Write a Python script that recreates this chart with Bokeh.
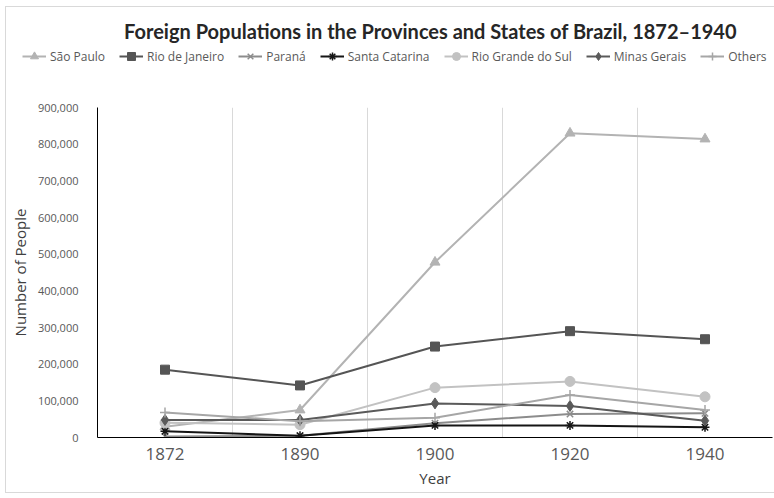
from bokeh.plotting import figure
from bokeh.layouts import column
from bokeh.models import Range1d, FixedTicker, NumeralTickFormatter, Legend, LegendItem, Label
from bokeh.embed import file_html
from bokeh.resources import INLINE

years = ["1872", "1890", "1900", "1920", "1940"]
sao_paulo = [29000, 75000, 478000, 830000, 814000]
rio_de_janeiro = [185000, 142000, 248000, 290000, 268000]
parana = [3000, 5000, 39000, 64000, 66000]
santa_catarina = [17000, 5000, 33000, 33000, 28000]
rio_grande_do_sul = [40000, 35000, 136000, 153000, 111000]
minas_gerais = [48000, 48000, 93000, 86000, 46000]
others = [68000, 44000, 54000, 116000, 75000]
y_ticks = [0, 100000, 200000, 300000, 400000, 500000, 600000, 700000, 800000, 900000]
title_text = "Foreign Populations in the Provinces and States of Brazil, 1872–1940"

series = [
    ("São Paulo", sao_paulo, "#b3b3b3", "triangle", 10),
    ("Rio de Janeiro", rio_de_janeiro, "#555555", "square", 9),
    ("Paraná", parana, "#8c8c8c", "x", 9),
    ("Santa Catarina", santa_catarina, "#151515", "asterisk", 9),
    ("Rio Grande do Sul", rio_grande_do_sul, "#c2c2c2", "circle", 10),
    ("Minas Gerais", minas_gerais, "#5a5a5a", "diamond", 11),
    ("Others", others, "#a6a6a6", "cross", 10),
]

FONT = "Open Sans"
W, H = 774, 498
TOP_H = 80
xs = list(range(len(years)))
line_img = "linear-gradient(#d9d9d9, #d9d9d9)"

# ---------- header figure: title + legend ----------
top = figure(width=W, height=TOP_H, output_backend="svg", toolbar_location=None,
             x_range=Range1d(0, W), y_range=Range1d(0, TOP_H),
             x_axis_type=None, y_axis_type=None,
             min_border_left=0, min_border_right=0, min_border_top=0, min_border_bottom=0)
top.frame_align = False
top.grid.visible = False
top.outline_line_color = None
top.background_fill_color = None
top.border_fill_color = None
top.styles = {
    "background-color": "white",
    "background-image": f"{line_img}, {line_img}",
    "background-position": "5px 6px, 5px 6px",
    "background-size": "1px 200px, 900px 1px",
    "background-repeat": "no-repeat",
}
top.add_layout(Label(x=430, y=TOP_H - 30, text=title_text, text_font="Lato",
                     text_font_size="20px", text_font_style="bold", text_color="#262626",
                     text_align="center", text_baseline="middle"))

# ---------- main plot ----------
p = figure(width=W, height=H - TOP_H, output_backend="svg", toolbar_location=None,
           x_range=Range1d(-0.5, len(years) - 0.5), y_range=Range1d(0, 900000),
           min_border_left=97, min_border_right=2, min_border_top=107 - TOP_H,
           min_border_bottom=61)
p.frame_align = False
p.outline_line_color = None
p.background_fill_color = "white"
p.border_fill_color = None
p.styles = {
    "background-color": "white",
    "background-image": f"{line_img}, {line_img}",
    "background-position": f"5px 0px, 5px {492 - TOP_H}px",
    "background-size": f"1px {492 - TOP_H}px, 900px 1px",
    "background-repeat": "no-repeat",
}

p.xaxis.ticker = FixedTicker(ticks=xs)
p.xaxis.major_label_overrides = {i: y for i, y in zip(xs, years)}
p.xaxis.major_label_text_font = FONT
p.xaxis.major_label_text_font_size = "17px"
p.xaxis.major_label_text_color = "#595959"
p.xaxis.major_label_standoff = 4
p.xaxis.axis_label = "Year"
p.xaxis.axis_label_text_font = FONT
p.xaxis.axis_label_text_font_size = "15px"
p.xaxis.axis_label_text_font_style = "normal"
p.xaxis.axis_label_text_color = "#404040"
p.xaxis.axis_label_standoff = 5

p.yaxis.ticker = FixedTicker(ticks=y_ticks)
p.yaxis.formatter = NumeralTickFormatter(format="0,0")
p.yaxis.major_label_text_font = FONT
p.yaxis.major_label_text_font_size = "11px"
p.yaxis.major_label_text_color = "#595959"
p.yaxis.major_label_standoff = 13
p.yaxis.axis_label = "Number of People"
p.yaxis.axis_label_text_font = FONT
p.yaxis.axis_label_text_font_size = "15px"
p.yaxis.axis_label_text_font_style = "normal"
p.yaxis.axis_label_text_color = "#404040"
p.yaxis.axis_label_standoff = 5

for ax in (p.xaxis, p.yaxis):
    ax.axis_line_color = "#000000"
    ax.axis_line_width = 1
    ax.major_tick_line_color = None
    ax.minor_tick_line_color = None

p.xgrid.ticker = FixedTicker(ticks=[i + 0.5 for i in xs])
p.xgrid.grid_line_color = "#d9d9d9"
p.xgrid.grid_line_width = 1
p.ygrid.grid_line_color = None

items = []
for name, vals, color, marker, size in series:
    lw = 1.5 if marker in ("x", "asterisk", "cross") else 1
    p.line(xs, vals, line_color=color, line_width=2)
    p.scatter(xs, vals, marker=marker, size=size, fill_color=color,
              line_color=color, line_width=lw)
    # legend swatches live in the header figure (their data fall outside its view)
    l1 = top.line(xs, vals, line_color=color, line_width=2)
    l2 = top.scatter(xs, vals, marker=marker, size=size, fill_color=color,
                     line_color=color, line_width=lw)
    items.append(LegendItem(label=name, renderers=[l1, l2]))

legend = Legend(items=items, orientation="horizontal", location=(22, TOP_H - 66),
                glyph_width=24, glyph_height=20, label_standoff=4, spacing=14,
                label_text_font=FONT, label_text_font_size="12px", label_text_color="#595959",
                border_line_color=None, background_fill_alpha=0, padding=0, margin=0)
top.add_layout(legend, "center")

layout = column(top, p, spacing=0)
open("out.html", "w").write(file_html(layout, INLINE))
